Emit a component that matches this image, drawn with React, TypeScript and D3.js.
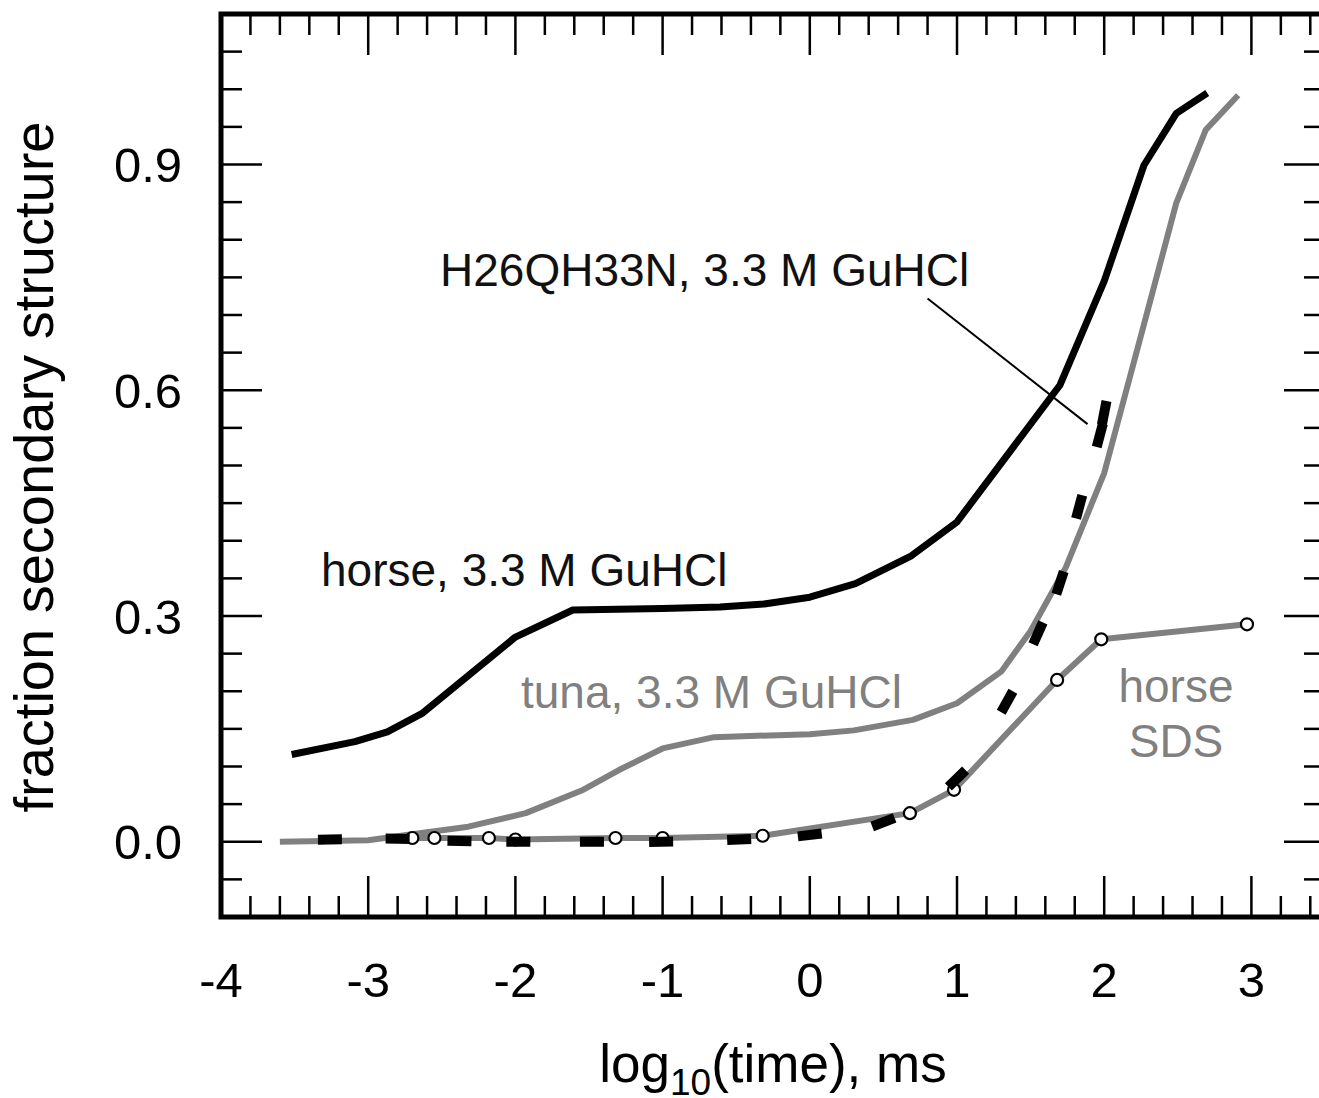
import { useEffect, useRef } from 'react';
import * as d3 from 'd3';

// horse cytochrome c, 3.3 M GuHCl (black solid)
const horseGuX = [-3.52, -3.09, -2.87, -2.63, -2.0, -1.61, -1.0, -0.61, -0.31, 0.0, 0.31, 0.69, 1.0, 1.7, 2.0, 2.27, 2.49, 2.7];
const horseGuY = [0.116, 0.133, 0.146, 0.171, 0.272, 0.308, 0.31, 0.312, 0.316, 0.325, 0.343, 0.38, 0.425, 0.607, 0.745, 0.899, 0.968, 0.995];

// tuna, 3.3 M GuHCl (gray solid)
const tunaX = [-3.6, -3.0, -2.74, -2.32, -1.93, -1.55, -1.3, -1.0, -0.65, 0.0, 0.3, 0.7, 1.0, 1.3, 1.5, 1.74, 2.0, 2.26, 2.49, 2.69, 2.91];
const tunaY = [0.0, 0.002, 0.009, 0.02, 0.038, 0.068, 0.095, 0.124, 0.139, 0.143, 0.148, 0.162, 0.184, 0.226, 0.28, 0.365, 0.49, 0.68, 0.849, 0.946, 0.992];

// horse, SDS (gray line with open circles)
const sdsX = [-2.7, -2.55, -2.18, -2.0, -1.32, -1.0, -0.32, 0.68, 0.98, 1.68, 1.98, 2.97];
const sdsY = [0.005, 0.005, 0.005, 0.003, 0.005, 0.005, 0.008, 0.038, 0.069, 0.215, 0.269, 0.289];

// H26QH33N, 3.3 M GuHCl (black dashes)
const mutX = [-3.26, -2.8, -2.38, -1.98, -1.48, -1.01, -0.48, 0.0, 0.5, 1.0, 1.34, 1.55, 1.7, 1.83, 1.97, 2.0];
const mutY = [0.003, 0.004, 0.001, 0.0, 0.0, 0.0, 0.003, 0.009, 0.026, 0.084, 0.186, 0.277, 0.344, 0.445, 0.54, 0.57];

const xTickLabels = [-4, -3, -2, -1, 0, 1, 2, 3];
const yTickLabels = [0.0, 0.3, 0.6, 0.9];

// leader from the mutant label to its curve (data coords)
const leaderFrom = [0.8, 0.722];
const leaderTo = [1.887, 0.555];

const GRAY = '#808080';
const FONT = '"Liberation Sans", Arial, Helvetica, sans-serif';

const zip = (xs: number[], ys: number[]) => xs.map((x, i) => ({ x, y: ys[i] }));

const App = () => {
  const svgRef = useRef<SVGSVGElement>(null);

  useEffect(() => {
    const width = 1319;
    const height = 1098;

    const xScale = d3.scaleLinear().domain([-4, 3.5]).range([221, 1325]);
    const yScale = d3.scaleLinear().domain([-0.1, 1.1]).range([917, 14]);

    d3.select(svgRef.current).selectAll('*').remove();
    const svg = d3.select(svgRef.current)
      .attr('width', width)
      .attr('height', height);

    const [x0, x1] = xScale.range();
    const [y0, y1] = yScale.range();

    // ticks, all pointing inward on the four sides
    const xMinor = d3.range(-19, 18).map(i => i / 5);
    const yMinor = d3.range(-1, 22).map(i => i / 20);
    const isMajorX = (v: number) => Math.abs(v - Math.round(v)) < 1e-6;
    const isMajorY = (v: number) => [0, 0.3, 0.6, 0.9].some(m => Math.abs(m - v) < 1e-6);

    const ticks = svg.append('g').attr('stroke', '#000').attr('stroke-width', 2.5);
    xMinor.forEach(v => {
      const len = isMajorX(v) ? 41 : 21;
      ticks.append('line').attr('x1', xScale(v)).attr('x2', xScale(v)).attr('y1', y0).attr('y2', y0 - len);
      ticks.append('line').attr('x1', xScale(v)).attr('x2', xScale(v)).attr('y1', y1).attr('y2', y1 + len);
    });
    yMinor.forEach(v => {
      const len = isMajorY(v) ? 41 : 21;
      ticks.append('line').attr('x1', x0).attr('x2', x0 + len).attr('y1', yScale(v)).attr('y2', yScale(v));
      ticks.append('line').attr('x1', x1).attr('x2', x1 - len).attr('y1', yScale(v)).attr('y2', yScale(v));
    });

    // frame
    svg.append('rect')
      .attr('x', x0).attr('y', y1)
      .attr('width', x1 - x0).attr('height', y0 - y1)
      .attr('fill', 'none').attr('stroke', '#000').attr('stroke-width', 5);

    // tick labels
    svg.append('g')
      .selectAll('text')
      .data(xTickLabels)
      .join('text')
      .attr('x', d => xScale(d))
      .attr('y', 997)
      .attr('text-anchor', 'middle')
      .attr('font-family', FONT)
      .attr('font-size', 49)
      .text(d => String(d));

    svg.append('g')
      .selectAll('text')
      .data(yTickLabels)
      .join('text')
      .attr('x', 182)
      .attr('y', d => yScale(d))
      .attr('dy', '0.36em')
      .attr('text-anchor', 'end')
      .attr('font-family', FONT)
      .attr('font-size', 49)
      .text(d => d3.format('.1f')(d));

    // axis titles
    const xt = svg.append('text')
      .attr('x', 773)
      .attr('y', 1082)
      .attr('text-anchor', 'middle')
      .attr('font-family', FONT)
      .attr('font-size', 53);
    xt.append('tspan').text('log');
    xt.append('tspan').attr('font-size', 37).attr('dy', 13).text('10');
    xt.append('tspan').attr('dy', -13).text('(time), ms');

    svg.append('text')
      .attr('transform', 'translate(53, 467) rotate(-90)')
      .attr('text-anchor', 'middle')
      .attr('font-family', FONT)
      .attr('font-size', 56)
      .text('fraction secondary structure');

    const line = d3.line<{ x: number; y: number }>()
      .x(d => xScale(d.x))
      .y(d => yScale(d.y));

    // gray curves
    svg.append('path')
      .datum(zip(tunaX, tunaY))
      .attr('fill', 'none')
      .attr('stroke', GRAY)
      .attr('stroke-width', 6)
      .attr('stroke-linejoin', 'round')
      .attr('d', line);

    const sds = zip(sdsX, sdsY);
    svg.append('path')
      .datum(sds)
      .attr('fill', 'none')
      .attr('stroke', GRAY)
      .attr('stroke-width', 6)
      .attr('stroke-linejoin', 'round')
      .attr('d', line);

    // black horse curve
    svg.append('path')
      .datum(zip(horseGuX, horseGuY))
      .attr('fill', 'none')
      .attr('stroke', '#000')
      .attr('stroke-width', 7)
      .attr('stroke-linejoin', 'round')
      .attr('d', line);

    // open circles for SDS
    svg.append('g')
      .selectAll('circle')
      .data(sds)
      .join('circle')
      .attr('cx', d => xScale(d.x))
      .attr('cy', d => yScale(d.y))
      .attr('r', 6)
      .attr('fill', '#fff')
      .attr('stroke', '#000')
      .attr('stroke-width', 2.2);

    // mutant: short dashes laid along the curve direction
    const mut = zip(mutX, mutY);
    svg.append('g')
      .selectAll('rect')
      .data(mut)
      .join('rect')
      .attr('x', -12).attr('y', -5)
      .attr('width', 24).attr('height', 10)
      .attr('fill', '#000')
      .attr('transform', (d, i) => {
        const a = mut[Math.max(0, i - 1)];
        const b = mut[Math.min(mut.length - 1, i + 1)];
        const ang = Math.atan2(yScale(b.y) - yScale(a.y), xScale(b.x) - xScale(a.x)) * 180 / Math.PI;
        return `translate(${xScale(d.x)},${yScale(d.y)}) rotate(${ang})`;
      });

    // leader line
    svg.append('line')
      .attr('x1', xScale(leaderFrom[0])).attr('y1', yScale(leaderFrom[1]))
      .attr('x2', xScale(leaderTo[0])).attr('y2', yScale(leaderTo[1]))
      .attr('stroke', '#000').attr('stroke-width', 2);

    // curve labels
    const label = (x: number, y: number, txt: string, color: string, anchor = 'start') =>
      svg.append('text')
        .attr('x', x).attr('y', y)
        .attr('text-anchor', anchor)
        .attr('font-family', FONT)
        .attr('font-size', 46)
        .attr('fill', color)
        .text(txt);

    label(440, 286, 'H26QH33N, 3.3 M GuHCl', '#111');
    label(321, 586, 'horse, 3.3 M GuHCl', '#111');
    label(521, 708, 'tuna, 3.3 M GuHCl', GRAY);
    label(1176, 702, 'horse', GRAY, 'middle');
    label(1176, 757, 'SDS', GRAY, 'middle');
  }, []);

  return (
    <svg ref={svgRef} style={{ position: 'absolute', left: 0, top: 0, background: '#fff' }}></svg>
  );
};

export default App;
